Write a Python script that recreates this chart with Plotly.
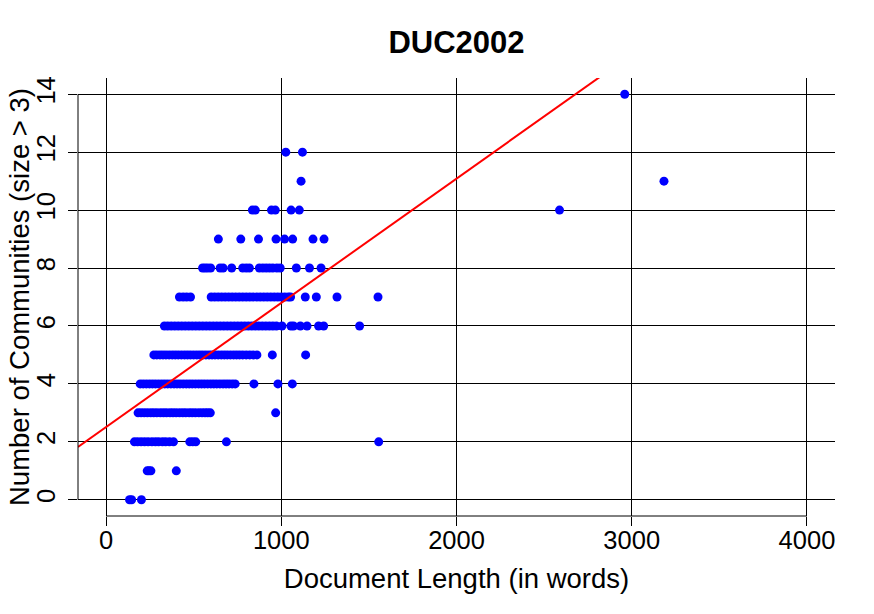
import plotly.graph_objects as go

# Document lengths (words) grouped by number of communities (size > 3)
len_c0 = [134, 146, 202]
len_c1 = [235, 245, 256, 401]
len_c2 = [162, 180, 200, 220, 240, 262, 282, 300, 322, 340, 362, 385, 478, 495, 512, 687, 1556]
len_c3 = [183, 200, 218, 236, 255, 272, 290, 310, 328, 345, 365, 382, 400, 420, 438, 455,
          475, 492, 510, 530, 548, 565, 580, 595, 968]
len_c4 = [195, 212, 230, 248, 265, 282, 300, 318, 335, 352, 370, 388, 405, 422, 440, 458,
          475, 492, 510, 528, 545, 562, 580, 598, 615, 632, 650, 668, 685, 702, 720, 737,
          844, 981, 1063]
len_c5 = [273, 290, 308, 325, 342, 360, 378, 395, 412, 430, 448, 465, 482, 500, 518, 535,
          552, 570, 588, 605, 622, 640, 658, 675, 692, 710, 728, 745, 762, 780, 800, 820,
          840, 861, 949, 1139]
len_c6 = [333, 352, 372, 392, 412, 432, 452, 472, 492, 512, 532, 552, 572, 592, 612, 632,
          652, 672, 692, 712, 732, 752, 772, 792, 812, 832, 852, 872, 892, 912, 932, 952,
          972, 1004, 1055, 1070, 1109, 1147, 1213, 1242, 1447]
len_c7 = [419, 440, 460, 482, 600, 620, 640, 660, 680, 700, 720, 740, 760, 780, 800, 820,
          840, 860, 880, 900, 920, 940, 960, 980, 1000, 1020, 1040, 1053, 1137, 1200, 1318, 1552]
len_c8 = [551, 565, 580, 597, 651, 668, 717, 780, 800, 818, 875, 895, 914, 933, 952, 975,
          994, 1086, 1161, 1227]
len_c9 = [641, 769, 870, 970, 1019, 1065, 1181, 1244]
len_c10 = [835, 852, 944, 966, 1056, 1103, 2588]
len_c11 = [1113, 3184]
len_c12 = [1026, 1121]
len_c14 = [2960]

community_counts = [0, 1, 2, 3, 4, 5, 6, 7, 8, 9, 10, 11, 12, 14]
length_groups = [len_c0, len_c1, len_c2, len_c3, len_c4, len_c5, len_c6, len_c7,
                 len_c8, len_c9, len_c10, len_c11, len_c12, len_c14]

# Linear fit (abline of lm)
fit_intercept = 2.507
fit_slope = 0.00429

x_ticks = [0, 1000, 2000, 3000, 4000]
y_ticks = [0, 2, 4, 6, 8, 10, 12, 14]
x_lim = [0, 4000]
y_lim = [0, 14]

xs, ys = [], []
for c, grp in zip(community_counts, length_groups):
    xs += grp
    ys += [c] * len(grp)

# R-style 4% axis extension
xr = [x_lim[0] - 0.04 * (x_lim[1] - x_lim[0]), x_lim[1] + 0.04 * (x_lim[1] - x_lim[0])]
yr = [y_lim[0] - 0.04 * (y_lim[1] - y_lim[0]), y_lim[1] + 0.04 * (y_lim[1] - y_lim[0])]

FONT = "Liberation Sans, Arial, sans-serif"
W, H = 874, 614

fig = go.Figure()
fig.add_trace(go.Scatter(
    x=xs, y=ys, mode="markers",
    marker=dict(color="#0000FF", size=9, line=dict(width=0)),
    showlegend=False, hoverinfo="x+y"))

fig.add_trace(go.Scatter(
    x=xr, y=[fit_intercept + fit_slope * v for v in xr], mode="lines",
    line=dict(color="#FF0000", width=2), showlegend=False, hoverinfo="skip"))

# R-style axis lines (only across the tick range)
fig.add_shape(type="line", xref="x", yref="paper", x0=x_lim[0], x1=x_lim[1], y0=0, y1=0,
              line=dict(color="black", width=1))
fig.add_shape(type="line", xref="paper", yref="y", x0=0, x1=0, y0=y_lim[0], y1=y_lim[1],
              line=dict(color="black", width=1))

fig.add_annotation(text="Number of Communities (size > 3)", textangle=-90,
                   xref="paper", yref="paper", x=0, y=0.5, xanchor="center", yanchor="middle",
                   xshift=-59, showarrow=False, font=dict(family=FONT, size=27.5, color="black"))

fig.update_layout(
    width=W, height=H,
    margin=dict(l=78, r=39, t=78, b=98),
    paper_bgcolor="white", plot_bgcolor="white",
    font=dict(family=FONT, color="black", size=25),
    title=dict(text="<b>DUC2002</b>", x=456.5 / W, xanchor="center", xref="container",
               y=1 - 42 / H, yanchor="middle", yref="container",
               font=dict(family=FONT, size=31, color="black")),
    xaxis=dict(range=xr, tickvals=x_ticks, ticktext=[str(v) for v in x_ticks],
               showgrid=True, gridcolor="black", gridwidth=1, zeroline=False,
               showline=False, ticks="outside", ticklen=9, tickwidth=1, tickcolor="black",
               tickfont=dict(size=25.5), fixedrange=True, automargin=False,
               ticklabelstandoff=-8,
               title=dict(text="Document Length (in words)", font=dict(size=27.5), standoff=16)),
    yaxis=dict(range=yr, tickvals=y_ticks, ticktext=[str(v) for v in y_ticks],
               showgrid=True, gridcolor="black", gridwidth=1, zeroline=False,
               showline=False, ticks="outside", ticklen=9, tickwidth=1, tickcolor="black",
               tickangle=-90, tickfont=dict(size=25.5), fixedrange=True, automargin=False,
               ticklabelstandoff=3),
)

# remove the default page margin so the 874x614 figure fills the window exactly
fig.write_html("out.html", config={"displayModeBar": False},
               post_script="document.body.style.margin='0';")
